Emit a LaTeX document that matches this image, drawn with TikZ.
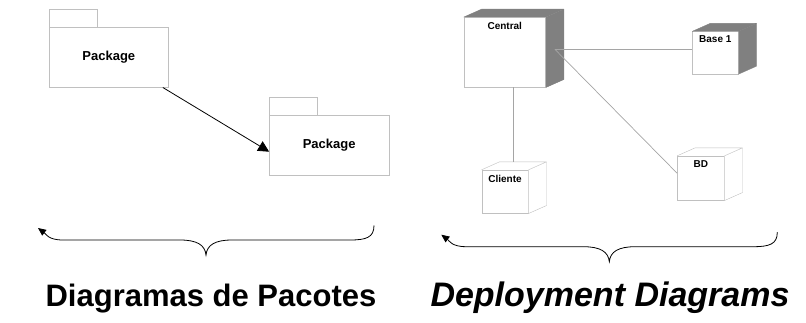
\documentclass[tikz,border=0pt]{standalone}
\usepackage{fontspec}
\setmainfont{Liberation Sans}
\usetikzlibrary{arrows.meta}

\definecolor{edgegray}{RGB}{192,192,192}
\definecolor{facegray}{RGB}{128,128,128}
\definecolor{wiregray}{RGB}{165,165,165}

% top and right faces of a deployment node
\newcommand{\nodefaces}[3]{%
  \fill[#2] (#1.north east) -- ([xshift=\dx pt,yshift=\dy pt]#1.north east)
    -- ([xshift=\dx pt,yshift=\dy pt]#1.south east) -- (#1.south east) -- cycle;
  \fill[#2] (#1.north west) -- ([xshift=\dx pt,yshift=\dy pt]#1.north west)
    -- ([xshift=\dx pt,yshift=\dy pt]#1.north east) -- (#1.north east) -- cycle;
  \draw[#3,line join=round] (#1.north west) -- ([xshift=\dx pt,yshift=\dy pt]#1.north west)
    -- ([xshift=\dx pt,yshift=\dy pt]#1.north east) -- ([xshift=\dx pt,yshift=\dy pt]#1.south east)
    -- (#1.south east) (#1.north east) -- ([xshift=\dx pt,yshift=\dy pt]#1.north east);
}

% curly brace under a group, #1 is the cusp
\newcommand{\groupbrace}[1]{%
  \draw[brace] ([shift={(168,-29.5)}]#1) .. controls +(0,12) and +(16,0) .. ([shift={(144,-15)}]#1)
    -- ([shift={(26,-15)}]#1) .. controls +(-17,0) and +(1,-10) .. (#1)
    .. controls +(-1,-10) and +(17,0) .. ([shift={(-26,-15)}]#1)
    -- ([shift={(-143,-15)}]#1) .. controls +(-15,0) and +(8,6) .. ([shift={(-168,-27)}]#1);
}

\begin{document}
\begin{tikzpicture}[x=1pt, y=-1pt]
    \tikzstyle{package}=[draw=edgegray,minimum width=119.7pt,minimum height=60pt,inner sep=0pt,
      font=\bfseries\fontsize{13}{13}\selectfont]
    \tikzstyle{box}=[draw=edgegray,fill=white,inner sep=0pt]
    \tikzstyle{boxlabel}=[font=\bfseries\fontsize{10}{10}\selectfont,inner sep=0pt]
    \tikzstyle{wire}=[draw=wiregray,line width=0.7pt]
    \tikzstyle{brace}=[line width=0.8pt,-{Triangle[length=8pt,width=7pt]}]
    \tikzstyle{caption}=[anchor=base,inner sep=0pt,font=\bfseries\fontsize{31}{31}\selectfont]
    \def\dx{18}
    \def\dy{8}

    \useasboundingbox (0,0) rectangle (806,323);

    % packages
    \node[package] (pkgA) at (108.8,57.3) {Package};
    \draw[edgegray] (pkgA.north west) rectangle ++(48,-18);
    \node[package] (pkgB) at (329.2,145.3) {Package};
    \draw[edgegray] (pkgB.north west) rectangle ++(48,-18);
    \draw[line width=0.8pt,-{Triangle[length=11pt,width=11pt]}]
      ([xshift=-6pt]pkgA.south east) -- ([yshift=-6.4pt]pkgB.west);

    % deployment nodes, names sit near the top of the front face
    \node[box,minimum width=81.7pt,minimum height=70pt] (srv) at (504.8,52.3) {};
    \nodefaces{srv}{facegray}{facegray}
    \node[boxlabel] (srvname) at ([yshift=-8.5pt]srv.north) {Central};
    \node[box,minimum width=46pt,minimum height=42.3pt] (base) at (715.3,52.8) {};
    \nodefaces{base}{facegray}{facegray}
    \node[boxlabel] (basename) at ([yshift=-7.5pt]base.north) {Base 1};
    \node[box,minimum width=47pt,minimum height=44.3pt] (bd) at (700.8,178.2) {};
    \nodefaces{bd}{white}{edgegray}
    \node[boxlabel] (bdname) at ([yshift=-8.5pt]bd.north) {BD};
    \node[box,minimum width=46.6pt,minimum height=43.3pt] (cli) at (505,191.7) {};
    \nodefaces{cli}{white}{edgegray}
    \node[boxlabel] (cliname) at ([yshift=-9pt]cli.north) {Cliente};

    \coordinate (hub) at ([shift={(9,-3)}]srv.east);
    \coordinate (drop) at ([shift={(8.3,-8)}]cli.north);
    \draw[wire] (hub) -- (hub -| base.west);
    \draw[wire] (hub) -- ([yshift=5pt]bd.west);
    \draw[wire] (drop |- srv.south) -- (drop);

    % braces and captions
    \coordinate (cuspA) at (206,255);
    \coordinate (cuspB) at (609.3,261.7);
    \groupbrace{cuspA}
    \groupbrace{cuspB}
    \node[caption] (capA) at (211,306) {Diagramas de Pacotes};
    \node[caption,font=\bfseries\itshape\fontsize{34}{34}\selectfont] (capB) at (610,306) {Deployment Diagrams};
\end{tikzpicture}
\end{document}
